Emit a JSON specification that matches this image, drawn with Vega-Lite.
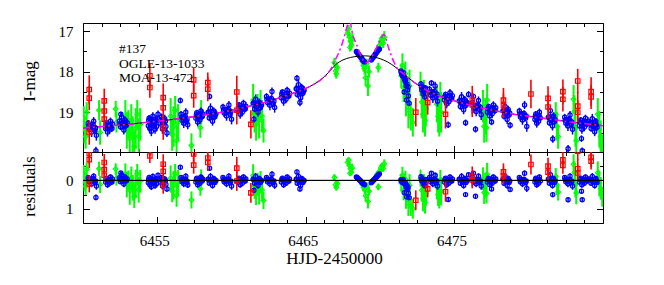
{
"$schema": "https://vega.github.io/schema/vega-lite/v6.json",
"background": "white",
"padding": {"left": 19, "top": 22, "right": 62, "bottom": 19},
"bounds": "flush",
"spacing": 0,
"config": {
  "view": {"stroke": "#000", "strokeWidth": 1},
  "axis": {"labelFont": "Liberation Serif", "titleFont": "Liberation Serif", "labelFontSize": 15, "titleFontSize": 17, "titleFontWeight": "normal", "labelColor": "#000", "titleColor": "#000", "tickColor": "#000", "tickWidth": 1, "domain": false, "grid": false}
},
"datasets": {
"b": [
{"t":6450.35,"m":19.27,"e":0.08,"r":-0.10},{"t":6450.42,"m":19.42,"e":0.10,"r":0.05},{"t":6450.50,"m":19.34,"e":0.07,"r":-0.03},{"t":6450.58,"m":19.49,"e":0.12,"r":0.12},{"t":6450.65,"m":19.37,"e":0.09,"r":0.00},{"t":6450.72,"m":19.22,"e":0.10,"r":-0.15},{"t":6450.80,"m":19.45,"e":0.08,"r":0.08},{"t":6450.90,"m":19.57,"e":0.13,"r":0.20},{"t":6450.87,"m":19.95,"e":0.10,"r":0.60},
{"t":6451.52,"m":19.40,"e":0.09,"r":0.06},{"t":6451.58,"m":19.26,"e":0.07,"r":-0.08},{"t":6451.65,"m":19.49,"e":0.11,"r":0.15},{"t":6451.72,"m":19.32,"e":0.08,"r":-0.02},{"t":6451.78,"m":19.44,"e":0.10,"r":0.10},{"t":6451.85,"m":19.22,"e":0.09,"r":-0.12},{"t":6451.92,"m":19.36,"e":0.07,"r":0.02},{"t":6451.98,"m":19.29,"e":0.10,"r":-0.05},
{"t":6452.45,"m":19.22,"e":0.10,"r":-0.09},{"t":6452.52,"m":19.36,"e":0.08,"r":0.05},{"t":6452.60,"m":19.12,"e":0.12,"r":-0.19},{"t":6452.68,"m":19.29,"e":0.07,"r":-0.02},{"t":6452.75,"m":19.44,"e":0.11,"r":0.13},{"t":6452.82,"m":19.19,"e":0.09,"r":-0.12},{"t":6452.90,"m":19.33,"e":0.08,"r":0.02},{"t":6452.97,"m":19.26,"e":0.10,"r":-0.05},{"t":6452.55,"m":19.05,"e":0.06,"r":-0.26},
{"t":6454.40,"m":19.33,"e":0.10,"r":0.08},{"t":6454.45,"m":19.15,"e":0.08,"r":-0.10},{"t":6454.50,"m":19.40,"e":0.12,"r":0.15},{"t":6454.55,"m":19.22,"e":0.07,"r":-0.03},{"t":6454.60,"m":19.47,"e":0.12,"r":0.22},{"t":6454.65,"m":19.29,"e":0.09,"r":0.05},{"t":6454.70,"m":19.10,"e":0.10,"r":-0.14},{"t":6454.75,"m":19.34,"e":0.08,"r":0.10},{"t":6454.80,"m":19.24,"e":0.07,"r":0.00},{"t":6454.85,"m":19.42,"e":0.11,"r":0.18},{"t":6454.90,"m":19.17,"e":0.09,"r":-0.06},{"t":6454.95,"m":19.35,"e":0.10,"r":0.12},{"t":6455.05,"m":19.05,"e":0.09,"r":-0.18},{"t":6455.20,"m":19.27,"e":0.09,"r":0.06},{"t":6455.28,"m":19.11,"e":0.08,"r":-0.10},{"t":6455.35,"m":19.41,"e":0.12,"r":0.20},{"t":6455.42,"m":19.23,"e":0.08,"r":0.02},{"t":6455.50,"m":19.16,"e":0.10,"r":-0.05},{"t":6455.58,"m":19.35,"e":0.11,"r":0.14},{"t":6455.65,"m":19.51,"e":0.10,"r":0.30},
{"t":6456.55,"m":18.71,"e":0.07,"r":-0.46},{"t":6456.60,"m":19.05,"e":0.08,"r":-0.10},{"t":6456.66,"m":19.20,"e":0.10,"r":0.05},{"t":6456.72,"m":19.12,"e":0.07,"r":-0.03},{"t":6456.78,"m":19.27,"e":0.12,"r":0.12},{"t":6456.85,"m":19.15,"e":0.09,"r":0.00},{"t":6456.92,"m":19.00,"e":0.10,"r":-0.15},{"t":6456.98,"m":19.23,"e":0.08,"r":0.08},{"t":6457.05,"m":19.31,"e":0.11,"r":0.16},
{"t":6457.60,"m":19.15,"e":0.09,"r":0.06},{"t":6457.66,"m":19.01,"e":0.07,"r":-0.08},{"t":6457.72,"m":19.24,"e":0.11,"r":0.15},{"t":6457.80,"m":19.07,"e":0.08,"r":-0.02},{"t":6457.87,"m":19.19,"e":0.10,"r":0.10},{"t":6457.94,"m":18.97,"e":0.09,"r":-0.12},{"t":6458.00,"m":19.11,"e":0.07,"r":0.02},{"t":6458.06,"m":19.04,"e":0.10,"r":-0.05},
{"t":6458.42,"m":19.00,"e":0.10,"r":-0.04},{"t":6458.50,"m":19.14,"e":0.08,"r":0.10},{"t":6458.58,"m":18.90,"e":0.12,"r":-0.14},{"t":6458.65,"m":19.07,"e":0.07,"r":0.03},{"t":6458.72,"m":19.22,"e":0.11,"r":0.18},{"t":6458.80,"m":18.97,"e":0.09,"r":-0.07},{"t":6458.88,"m":19.11,"e":0.08,"r":0.07},{"t":6458.95,"m":19.04,"e":0.10,"r":0.00},{"t":6458.52,"m":18.61,"e":0.07,"r":-0.43},
{"t":6459.42,"m":18.87,"e":0.08,"r":-0.10},{"t":6459.50,"m":19.02,"e":0.10,"r":0.05},{"t":6459.58,"m":18.94,"e":0.07,"r":-0.03},{"t":6459.66,"m":19.09,"e":0.12,"r":0.12},{"t":6459.74,"m":18.97,"e":0.09,"r":0.00},{"t":6459.82,"m":18.82,"e":0.10,"r":-0.15},{"t":6459.90,"m":19.05,"e":0.08,"r":0.08},{"t":6460.00,"m":19.17,"e":0.13,"r":0.20},
{"t":6460.42,"m":18.96,"e":0.09,"r":0.06},{"t":6460.50,"m":18.82,"e":0.07,"r":-0.08},{"t":6460.58,"m":19.05,"e":0.11,"r":0.15},{"t":6460.65,"m":18.88,"e":0.08,"r":-0.02},{"t":6460.72,"m":19.00,"e":0.10,"r":0.10},{"t":6460.80,"m":18.78,"e":0.09,"r":-0.12},{"t":6460.88,"m":18.92,"e":0.07,"r":0.02},{"t":6460.96,"m":18.85,"e":0.10,"r":-0.05},
{"t":6461.45,"m":18.78,"e":0.10,"r":-0.04},{"t":6461.55,"m":18.92,"e":0.08,"r":0.10},{"t":6461.62,"m":18.68,"e":0.12,"r":-0.14},{"t":6461.70,"m":18.85,"e":0.07,"r":0.03},{"t":6461.78,"m":19.00,"e":0.11,"r":0.18},{"t":6461.86,"m":18.75,"e":0.09,"r":-0.07},{"t":6461.94,"m":18.89,"e":0.08,"r":0.07},{"t":6462.02,"m":18.82,"e":0.10,"r":0.00},{"t":6461.50,"m":19.17,"e":0.08,"r":0.35},
{"t":6462.35,"m":18.61,"e":0.08,"r":-0.10},{"t":6462.42,"m":18.76,"e":0.10,"r":0.05},{"t":6462.50,"m":18.68,"e":0.07,"r":-0.03},{"t":6462.58,"m":18.83,"e":0.12,"r":0.12},{"t":6462.65,"m":18.71,"e":0.09,"r":0.00},{"t":6462.72,"m":18.49,"e":0.10,"r":-0.22},{"t":6462.80,"m":18.79,"e":0.08,"r":0.08},{"t":6462.90,"m":18.88,"e":0.13,"r":0.17},
{"t":6463.35,"m":18.64,"e":0.09,"r":0.06},{"t":6463.42,"m":18.50,"e":0.07,"r":-0.08},{"t":6463.50,"m":18.73,"e":0.11,"r":0.15},{"t":6463.58,"m":18.56,"e":0.08,"r":-0.02},{"t":6463.66,"m":18.68,"e":0.10,"r":0.10},{"t":6463.74,"m":18.46,"e":0.09,"r":-0.12},{"t":6463.82,"m":18.60,"e":0.07,"r":0.02},{"t":6463.90,"m":18.53,"e":0.10,"r":-0.05},
{"t":6464.35,"m":18.42,"e":0.10,"r":-0.04},{"t":6464.42,"m":18.56,"e":0.08,"r":0.10},{"t":6464.50,"m":18.32,"e":0.12,"r":-0.14},{"t":6464.58,"m":18.49,"e":0.07,"r":0.03},{"t":6464.65,"m":18.64,"e":0.11,"r":0.18},{"t":6464.72,"m":18.39,"e":0.09,"r":-0.07},{"t":6464.80,"m":18.53,"e":0.08,"r":0.07},{"t":6464.88,"m":18.46,"e":0.10,"r":0.00},{"t":6464.40,"m":18.16,"e":0.08,"r":-0.30},{"t":6464.60,"m":18.76,"e":0.09,"r":0.30},
{"t":6468.40,"m":17.50,"e":0.03,"r":-0.12},{"t":6468.45,"m":17.52,"e":0.03,"r":-0.10},{"t":6468.50,"m":17.55,"e":0.03,"r":-0.07},{"t":6468.55,"m":17.57,"e":0.03,"r":-0.05},{"t":6468.60,"m":17.60,"e":0.03,"r":-0.02},{"t":6468.65,"m":17.62,"e":0.03,"r":0.00},{"t":6468.70,"m":17.65,"e":0.03,"r":0.03},{"t":6468.75,"m":17.67,"e":0.03,"r":0.06},{"t":6468.80,"m":17.70,"e":0.03,"r":0.09},{"t":6468.85,"m":17.72,"e":0.03,"r":0.11},{"t":6468.90,"m":17.74,"e":0.03,"r":0.13},{"t":6468.95,"m":17.76,"e":0.03,"r":0.15},
{"t":6469.40,"m":17.71,"e":0.03,"r":0.08},{"t":6469.45,"m":17.68,"e":0.03,"r":0.05},{"t":6469.50,"m":17.66,"e":0.03,"r":0.03},{"t":6469.55,"m":17.63,"e":0.03,"r":-0.01},{"t":6469.60,"m":17.61,"e":0.03,"r":-0.03},{"t":6469.65,"m":17.58,"e":0.03,"r":-0.06},{"t":6469.70,"m":17.56,"e":0.03,"r":-0.09},{"t":6469.75,"m":17.53,"e":0.03,"r":-0.12},{"t":6469.80,"m":17.51,"e":0.03,"r":-0.15},{"t":6469.85,"m":17.48,"e":0.03,"r":-0.18},{"t":6469.90,"m":17.46,"e":0.03,"r":-0.21},{"t":6469.95,"m":17.44,"e":0.03,"r":-0.23},
{"t":6471.40,"m":17.98,"e":0.04,"r":-0.02},{"t":6471.45,"m":18.05,"e":0.05,"r":0.03},{"t":6471.50,"m":18.10,"e":0.05,"r":0.07},{"t":6471.55,"m":18.02,"e":0.04,"r":-0.03},{"t":6471.60,"m":18.15,"e":0.05,"r":0.09},{"t":6471.65,"m":18.20,"e":0.06,"r":0.12},{"t":6471.70,"m":18.25,"e":0.05,"r":0.16},{"t":6471.75,"m":18.35,"e":0.06,"r":0.24},{"t":6471.80,"m":18.30,"e":0.05,"r":0.18},{"t":6471.85,"m":18.45,"e":0.06,"r":0.31},{"t":6471.90,"m":18.60,"e":0.07,"r":0.45},{"t":6471.95,"m":18.78,"e":0.07,"r":0.61},{"t":6471.62,"m":18.50,"e":0.06,"r":0.43},{"t":6471.78,"m":18.70,"e":0.07,"r":0.58},
{"t":6472.75,"m":18.30,"e":0.07,"r":-0.13},{"t":6472.80,"m":18.45,"e":0.07,"r":0.02},{"t":6472.85,"m":18.38,"e":0.07,"r":-0.05},{"t":6472.90,"m":18.55,"e":0.08,"r":0.12},{"t":6472.95,"m":18.50,"e":0.07,"r":0.07},{"t":6473.00,"m":18.62,"e":0.08,"r":0.19},{"t":6473.05,"m":18.40,"e":0.07,"r":-0.03},
{"t":6473.32,"m":18.43,"e":0.08,"r":-0.10},{"t":6473.40,"m":18.58,"e":0.10,"r":0.05},{"t":6473.48,"m":18.50,"e":0.07,"r":-0.03},{"t":6473.55,"m":18.65,"e":0.12,"r":0.12},{"t":6473.62,"m":18.53,"e":0.09,"r":0.00},{"t":6473.70,"m":18.35,"e":0.10,"r":-0.18},{"t":6473.78,"m":18.61,"e":0.08,"r":0.08},{"t":6473.86,"m":18.73,"e":0.13,"r":0.20},{"t":6473.45,"m":18.28,"e":0.07,"r":-0.25},
{"t":6474.32,"m":18.70,"e":0.09,"r":0.06},{"t":6474.40,"m":18.56,"e":0.07,"r":-0.08},{"t":6474.48,"m":18.79,"e":0.11,"r":0.15},{"t":6474.55,"m":18.62,"e":0.08,"r":-0.02},{"t":6474.62,"m":18.74,"e":0.10,"r":0.10},{"t":6474.70,"m":18.52,"e":0.09,"r":-0.12},{"t":6474.78,"m":18.66,"e":0.07,"r":0.02},{"t":6474.86,"m":18.59,"e":0.10,"r":-0.05},{"t":6474.58,"m":19.31,"e":0.08,"r":0.67},
{"t":6475.32,"m":18.72,"e":0.10,"r":-0.04},{"t":6475.40,"m":18.86,"e":0.08,"r":0.10},{"t":6475.48,"m":18.62,"e":0.12,"r":-0.14},{"t":6475.55,"m":18.79,"e":0.07,"r":0.03},{"t":6475.62,"m":18.94,"e":0.11,"r":0.18},{"t":6475.70,"m":18.69,"e":0.09,"r":-0.07},{"t":6475.78,"m":18.83,"e":0.08,"r":0.07},{"t":6475.86,"m":18.76,"e":0.10,"r":0.00},{"t":6475.95,"m":18.56,"e":0.08,"r":-0.20},{"t":6475.75,"m":19.26,"e":0.08,"r":0.50},
{"t":6476.22,"m":18.76,"e":0.08,"r":-0.10},{"t":6476.30,"m":18.91,"e":0.10,"r":0.05},{"t":6476.38,"m":18.83,"e":0.07,"r":-0.03},{"t":6476.46,"m":18.98,"e":0.12,"r":0.12},{"t":6476.54,"m":18.86,"e":0.09,"r":0.00},{"t":6476.62,"m":18.71,"e":0.10,"r":-0.15},{"t":6476.70,"m":18.94,"e":0.08,"r":0.08},{"t":6476.80,"m":19.06,"e":0.13,"r":0.20},{"t":6476.42,"m":19.42,"e":0.08,"r":0.56},{"t":6476.28,"m":18.61,"e":0.07,"r":-0.25},
{"t":6477.22,"m":19.00,"e":0.09,"r":0.06},{"t":6477.30,"m":18.86,"e":0.07,"r":-0.08},{"t":6477.38,"m":19.09,"e":0.11,"r":0.15},{"t":6477.46,"m":18.92,"e":0.08,"r":-0.02},{"t":6477.54,"m":19.04,"e":0.10,"r":0.10},{"t":6477.62,"m":18.82,"e":0.09,"r":-0.12},{"t":6477.70,"m":18.96,"e":0.07,"r":0.02},{"t":6477.78,"m":18.89,"e":0.10,"r":-0.05},{"t":6477.50,"m":19.24,"e":0.08,"r":0.30},
{"t":6478.27,"m":18.96,"e":0.10,"r":-0.04},{"t":6478.34,"m":19.10,"e":0.08,"r":0.10},{"t":6478.41,"m":18.86,"e":0.12,"r":-0.14},{"t":6478.48,"m":19.03,"e":0.07,"r":0.03},{"t":6478.55,"m":19.18,"e":0.11,"r":0.18},{"t":6478.62,"m":18.93,"e":0.09,"r":-0.07},{"t":6478.68,"m":19.07,"e":0.08,"r":0.07},{"t":6478.75,"m":19.32,"e":0.08,"r":0.32},
{"t":6479.37,"m":18.97,"e":0.08,"r":-0.10},{"t":6479.44,"m":19.12,"e":0.10,"r":0.05},{"t":6479.51,"m":19.04,"e":0.07,"r":-0.03},{"t":6479.58,"m":19.19,"e":0.12,"r":0.12},{"t":6479.65,"m":19.07,"e":0.09,"r":0.00},{"t":6479.72,"m":18.82,"e":0.10,"r":-0.25},{"t":6479.79,"m":19.15,"e":0.08,"r":0.08},{"t":6479.87,"m":19.35,"e":0.13,"r":0.28},
{"t":6480.42,"m":19.18,"e":0.09,"r":0.06},{"t":6480.48,"m":19.04,"e":0.07,"r":-0.08},{"t":6480.54,"m":19.27,"e":0.11,"r":0.15},{"t":6480.60,"m":19.10,"e":0.08,"r":-0.02},{"t":6480.66,"m":19.22,"e":0.10,"r":0.10},{"t":6480.72,"m":19.00,"e":0.09,"r":-0.12},{"t":6480.78,"m":19.14,"e":0.07,"r":0.02},
{"t":6481.32,"m":19.12,"e":0.10,"r":-0.04},{"t":6481.39,"m":19.26,"e":0.08,"r":0.10},{"t":6481.46,"m":18.96,"e":0.12,"r":-0.20},{"t":6481.53,"m":19.19,"e":0.07,"r":0.03},{"t":6481.60,"m":19.34,"e":0.11,"r":0.18},{"t":6481.67,"m":19.09,"e":0.09,"r":-0.07},{"t":6481.74,"m":19.23,"e":0.08,"r":0.07},{"t":6481.62,"m":19.66,"e":0.09,"r":0.50},
{"t":6482.42,"m":19.12,"e":0.08,"r":-0.10},{"t":6482.50,"m":19.27,"e":0.10,"r":0.05},{"t":6482.57,"m":19.19,"e":0.07,"r":-0.03},{"t":6482.64,"m":19.34,"e":0.12,"r":0.12},{"t":6482.71,"m":19.22,"e":0.09,"r":0.00},{"t":6482.78,"m":19.07,"e":0.10,"r":-0.15},{"t":6482.86,"m":19.30,"e":0.08,"r":0.08},{"t":6482.95,"m":19.42,"e":0.13,"r":0.20},{"t":6482.65,"m":19.90,"e":0.09,"r":0.68},
{"t":6483.42,"m":19.33,"e":0.09,"r":0.06},{"t":6483.50,"m":19.19,"e":0.07,"r":-0.08},{"t":6483.58,"m":19.42,"e":0.11,"r":0.15},{"t":6483.66,"m":19.25,"e":0.08,"r":-0.02},{"t":6483.74,"m":19.37,"e":0.10,"r":0.10},{"t":6483.82,"m":19.15,"e":0.09,"r":-0.12},{"t":6483.90,"m":19.29,"e":0.07,"r":0.02},{"t":6483.98,"m":19.22,"e":0.10,"r":-0.05},{"t":6483.55,"m":19.65,"e":0.08,"r":0.38},{"t":6483.60,"m":19.95,"e":0.08,"r":0.68},
{"t":6484.12,"m":19.26,"e":0.10,"r":-0.04},{"t":6484.20,"m":19.40,"e":0.08,"r":0.10},{"t":6484.28,"m":19.16,"e":0.12,"r":-0.14},{"t":6484.36,"m":19.33,"e":0.07,"r":0.03},{"t":6484.44,"m":19.48,"e":0.11,"r":0.18},{"t":6484.52,"m":19.23,"e":0.09,"r":-0.07},{"t":6484.60,"m":19.37,"e":0.08,"r":0.07},
{"t":6450.38,"m":19.33,"e":0.08,"r":-0.04},{"t":6450.55,"m":19.41,"e":0.08,"r":0.04},{"t":6450.68,"m":19.30,"e":0.08,"r":-0.07},{"t":6450.85,"m":19.39,"e":0.08,"r":0.02},
{"t":6451.55,"m":19.31,"e":0.08,"r":-0.03},{"t":6451.68,"m":19.38,"e":0.08,"r":0.04},{"t":6451.82,"m":19.30,"e":0.08,"r":-0.04},{"t":6451.95,"m":19.40,"e":0.08,"r":0.06},
{"t":6452.48,"m":19.28,"e":0.08,"r":-0.03},{"t":6452.65,"m":19.35,"e":0.08,"r":0.04},{"t":6452.78,"m":19.24,"e":0.08,"r":-0.07},{"t":6452.93,"m":19.31,"e":0.08,"r":0.00},
{"t":6454.42,"m":19.20,"e":0.08,"r":-0.03},{"t":6454.52,"m":19.28,"e":0.08,"r":0.05},{"t":6454.62,"m":19.18,"e":0.08,"r":-0.05},{"t":6454.72,"m":19.25,"e":0.08,"r":0.02},{"t":6454.82,"m":19.30,"e":0.08,"r":0.07},{"t":6454.92,"m":19.21,"e":0.08,"r":-0.02},{"t":6455.25,"m":19.19,"e":0.08,"r":-0.02},{"t":6455.38,"m":19.26,"e":0.08,"r":0.05},{"t":6455.55,"m":19.22,"e":0.08,"r":0.01},
{"t":6456.63,"m":19.12,"e":0.08,"r":-0.03},{"t":6456.75,"m":19.19,"e":0.08,"r":0.04},{"t":6456.88,"m":19.10,"e":0.08,"r":-0.05},{"t":6457.00,"m":19.17,"e":0.08,"r":0.02},
{"t":6457.63,"m":19.06,"e":0.08,"r":-0.03},{"t":6457.76,"m":19.13,"e":0.08,"r":0.04},{"t":6457.90,"m":19.04,"e":0.08,"r":-0.05},{"t":6458.03,"m":19.10,"e":0.08,"r":0.01},
{"t":6458.46,"m":19.01,"e":0.08,"r":-0.03},{"t":6458.62,"m":19.09,"e":0.08,"r":0.05},{"t":6458.76,"m":19.00,"e":0.08,"r":-0.04},{"t":6458.90,"m":19.06,"e":0.08,"r":0.02},
{"t":6459.46,"m":18.94,"e":0.08,"r":-0.03},{"t":6459.62,"m":19.01,"e":0.08,"r":0.04},{"t":6459.78,"m":18.92,"e":0.08,"r":-0.05},{"t":6459.95,"m":18.99,"e":0.08,"r":0.02},
{"t":6460.46,"m":18.87,"e":0.08,"r":-0.03},{"t":6460.62,"m":18.94,"e":0.08,"r":0.04},{"t":6460.76,"m":18.86,"e":0.08,"r":-0.04},{"t":6460.92,"m":18.92,"e":0.08,"r":0.02},
{"t":6461.50,"m":18.79,"e":0.08,"r":-0.03},{"t":6461.66,"m":18.86,"e":0.08,"r":0.04},{"t":6461.82,"m":18.78,"e":0.08,"r":-0.04},{"t":6461.98,"m":18.84,"e":0.08,"r":0.02},
{"t":6462.38,"m":18.68,"e":0.08,"r":-0.03},{"t":6462.54,"m":18.75,"e":0.08,"r":0.04},{"t":6462.68,"m":18.66,"e":0.08,"r":-0.05},{"t":6462.85,"m":18.73,"e":0.08,"r":0.02},
{"t":6463.38,"m":18.55,"e":0.08,"r":-0.03},{"t":6463.54,"m":18.62,"e":0.08,"r":0.04},{"t":6463.70,"m":18.54,"e":0.08,"r":-0.04},{"t":6463.86,"m":18.60,"e":0.08,"r":0.02},
{"t":6464.38,"m":18.43,"e":0.08,"r":-0.03},{"t":6464.54,"m":18.50,"e":0.08,"r":0.04},{"t":6464.68,"m":18.41,"e":0.08,"r":-0.05},{"t":6464.84,"m":18.48,"e":0.08,"r":0.02},
{"t":6471.42,"m":18.02,"e":0.05,"r":0.01},{"t":6471.58,"m":18.10,"e":0.05,"r":0.04},{"t":6471.72,"m":18.20,"e":0.05,"r":0.11},{"t":6471.88,"m":18.38,"e":0.06,"r":0.24},
{"t":6472.78,"m":18.38,"e":0.08,"r":-0.04},{"t":6472.92,"m":18.46,"e":0.08,"r":0.04},{"t":6473.02,"m":18.42,"e":0.08,"r":0.00},
{"t":6473.36,"m":18.50,"e":0.08,"r":-0.03},{"t":6473.52,"m":18.57,"e":0.08,"r":0.04},{"t":6473.66,"m":18.49,"e":0.08,"r":-0.04},{"t":6473.82,"m":18.55,"e":0.08,"r":0.02},
{"t":6474.36,"m":18.61,"e":0.08,"r":-0.03},{"t":6474.52,"m":18.68,"e":0.08,"r":0.04},{"t":6474.66,"m":18.60,"e":0.08,"r":-0.04},{"t":6474.82,"m":18.66,"e":0.08,"r":0.02},
{"t":6475.36,"m":18.73,"e":0.08,"r":-0.03},{"t":6475.52,"m":18.80,"e":0.08,"r":0.04},{"t":6475.66,"m":18.72,"e":0.08,"r":-0.04},{"t":6475.82,"m":18.78,"e":0.08,"r":0.02},
{"t":6476.26,"m":18.83,"e":0.08,"r":-0.03},{"t":6476.42,"m":18.90,"e":0.08,"r":0.04},{"t":6476.58,"m":18.82,"e":0.08,"r":-0.04},{"t":6476.75,"m":18.88,"e":0.08,"r":0.02},
{"t":6477.26,"m":18.91,"e":0.08,"r":-0.03},{"t":6477.42,"m":18.98,"e":0.08,"r":0.04},{"t":6477.58,"m":18.90,"e":0.08,"r":-0.04},{"t":6477.74,"m":18.96,"e":0.08,"r":0.02},
{"t":6478.30,"m":18.97,"e":0.08,"r":-0.03},{"t":6478.45,"m":19.04,"e":0.08,"r":0.04},{"t":6478.58,"m":18.96,"e":0.08,"r":-0.04},{"t":6478.72,"m":19.02,"e":0.08,"r":0.02},
{"t":6479.40,"m":19.04,"e":0.08,"r":-0.03},{"t":6479.55,"m":19.11,"e":0.08,"r":0.04},{"t":6479.68,"m":19.03,"e":0.08,"r":-0.04},{"t":6479.83,"m":19.09,"e":0.08,"r":0.02},
{"t":6480.45,"m":19.09,"e":0.08,"r":-0.03},{"t":6480.57,"m":19.16,"e":0.08,"r":0.04},{"t":6480.70,"m":19.08,"e":0.08,"r":-0.04},
{"t":6481.36,"m":19.13,"e":0.08,"r":-0.03},{"t":6481.50,"m":19.20,"e":0.08,"r":0.04},{"t":6481.64,"m":19.12,"e":0.08,"r":-0.04},{"t":6481.77,"m":19.18,"e":0.08,"r":0.02},
{"t":6482.46,"m":19.19,"e":0.08,"r":-0.03},{"t":6482.60,"m":19.26,"e":0.08,"r":0.04},{"t":6482.75,"m":19.18,"e":0.08,"r":-0.04},{"t":6482.90,"m":19.24,"e":0.08,"r":0.02},
{"t":6483.46,"m":19.24,"e":0.08,"r":-0.03},{"t":6483.62,"m":19.31,"e":0.08,"r":0.04},{"t":6483.78,"m":19.23,"e":0.08,"r":-0.04},{"t":6483.94,"m":19.29,"e":0.08,"r":0.02},
{"t":6484.16,"m":19.27,"e":0.08,"r":-0.03},{"t":6484.32,"m":19.34,"e":0.08,"r":0.04},{"t":6484.48,"m":19.26,"e":0.08,"r":-0.04},{"t":6484.56,"m":19.32,"e":0.08,"r":0.02}
],
"g": [
{"t":6450.05,"m":19.15,"e":0.30,"r":-0.24},{"t":6450.10,"m":19.42,"e":0.35,"r":0.03},{"t":6450.18,"m":19.60,"e":0.30,"r":0.21},{"t":6450.25,"m":19.00,"e":0.25,"r":-0.39},
{"t":6451.08,"m":18.95,"e":0.25,"r":-0.41},{"t":6451.15,"m":19.50,"e":0.30,"r":0.14},
{"t":6452.20,"m":18.92,"e":0.20,"r":-0.40},{"t":6452.25,"m":19.25,"e":0.25,"r":-0.07},
{"t":6452.85,"m":19.10,"e":0.40,"r":-0.20},{"t":6452.95,"m":19.45,"e":0.45,"r":0.15},{"t":6453.05,"m":19.30,"e":0.35,"r":0.00},{"t":6453.15,"m":19.65,"e":0.50,"r":0.36},{"t":6453.25,"m":19.20,"e":0.40,"r":-0.09},{"t":6453.35,"m":19.55,"e":0.45,"r":0.26},{"t":6453.45,"m":19.85,"e":0.40,"r":0.57},{"t":6453.55,"m":19.40,"e":0.50,"r":0.12},{"t":6453.65,"m":19.05,"e":0.35,"r":-0.23},{"t":6453.75,"m":19.60,"e":0.45,"r":0.33},{"t":6453.85,"m":19.30,"e":0.40,"r":0.03},
{"t":6455.90,"m":19.10,"e":0.45,"r":-0.08},{"t":6456.00,"m":19.55,"e":0.40,"r":0.37},{"t":6456.10,"m":19.35,"e":0.50,"r":0.17},{"t":6456.20,"m":18.95,"e":0.35,"r":-0.23},{"t":6456.30,"m":19.70,"e":0.40,"r":0.53},{"t":6456.40,"m":19.25,"e":0.45,"r":0.08},
{"t":6457.30,"m":19.82,"e":0.30,"r":0.69},
{"t":6457.90,"m":19.38,"e":0.25,"r":0.29},{"t":6457.95,"m":19.00,"e":0.30,"r":-0.09},
{"t":6461.45,"m":18.70,"e":0.40,"r":-0.17},{"t":6461.55,"m":19.05,"e":0.45,"r":0.20},{"t":6461.65,"m":19.30,"e":0.40,"r":0.47},{"t":6461.75,"m":18.90,"e":0.35,"r":0.08},{"t":6461.85,"m":19.20,"e":0.45,"r":0.40},{"t":6461.95,"m":18.80,"e":0.35,"r":0.02},{"t":6462.05,"m":19.10,"e":0.40,"r":0.34},{"t":6462.15,"m":19.45,"e":0.30,"r":0.71},
{"t":6466.92,"m":17.78,"e":0.12,"r":-0.10},{"t":6467.00,"m":17.98,"e":0.15,"r":0.15},{"t":6467.05,"m":18.05,"e":0.12,"r":0.24},{"t":6467.12,"m":17.90,"e":0.10,"r":0.11},
{"t":6467.82,"m":17.05,"e":0.12,"r":-0.63},{"t":6467.88,"m":16.95,"e":0.10,"r":-0.72},{"t":6467.94,"m":17.15,"e":0.12,"r":-0.52},{"t":6468.00,"m":17.25,"e":0.10,"r":-0.40},{"t":6468.06,"m":17.35,"e":0.12,"r":-0.29},{"t":6468.12,"m":17.20,"e":0.15,"r":-0.44},{"t":6467.97,"m":17.40,"e":0.10,"r":-0.25},
{"t":6468.80,"m":17.75,"e":0.12,"r":0.14},{"t":6468.88,"m":17.85,"e":0.15,"r":0.24},{"t":6468.95,"m":17.92,"e":0.15,"r":0.31},{"t":6469.02,"m":18.15,"e":0.20,"r":0.54},{"t":6469.10,"m":17.80,"e":0.12,"r":0.19},{"t":6469.18,"m":18.35,"e":0.25,"r":0.74},{"t":6469.25,"m":18.00,"e":0.15,"r":0.38},
{"t":6469.72,"m":17.55,"e":0.12,"r":-0.11},{"t":6469.80,"m":17.45,"e":0.10,"r":-0.22},{"t":6469.88,"m":17.90,"e":0.12,"r":0.23},{"t":6469.95,"m":17.35,"e":0.10,"r":-0.32},{"t":6470.05,"m":17.25,"e":0.12,"r":-0.44},{"t":6470.12,"m":17.18,"e":0.10,"r":-0.52},{"t":6470.20,"m":17.30,"e":0.12,"r":-0.42},{"t":6470.28,"m":17.15,"e":0.15,"r":-0.59},
{"t":6471.42,"m":18.10,"e":0.30,"r":0.09},{"t":6471.50,"m":17.85,"e":0.30,"r":-0.18},{"t":6471.58,"m":18.40,"e":0.35,"r":0.35},{"t":6471.66,"m":18.25,"e":0.40,"r":0.17},{"t":6471.74,"m":18.70,"e":0.40,"r":0.60},{"t":6471.82,"m":18.50,"e":0.35,"r":0.37},{"t":6471.90,"m":18.95,"e":0.45,"r":0.80},{"t":6471.98,"m":18.35,"e":0.40,"r":0.18},{"t":6472.06,"m":19.10,"e":0.35,"r":0.90},{"t":6471.70,"m":18.05,"e":0.30,"r":-0.04},{"t":6472.20,"m":19.25,"e":0.35,"r":1.00},
{"t":6472.72,"m":18.30,"e":0.30,"r":-0.08},{"t":6472.80,"m":18.75,"e":0.40,"r":0.35},{"t":6472.88,"m":19.05,"e":0.45,"r":0.64},{"t":6472.95,"m":18.55,"e":0.35,"r":0.13},{"t":6473.02,"m":19.20,"e":0.40,"r":0.77},{"t":6473.08,"m":18.90,"e":0.45,"r":0.46},
{"t":6473.82,"m":18.80,"e":0.45,"r":0.22},{"t":6473.90,"m":19.10,"e":0.40,"r":0.50},{"t":6473.98,"m":19.15,"e":0.45,"r":0.54},{"t":6474.05,"m":18.60,"e":0.35,"r":-0.02},{"t":6474.10,"m":19.00,"e":0.50,"r":0.38},
{"t":6476.92,"m":18.85,"e":0.40,"r":-0.06},{"t":6477.00,"m":19.35,"e":0.40,"r":0.43},{"t":6477.08,"m":19.10,"e":0.45,"r":0.18},{"t":6477.16,"m":19.38,"e":0.35,"r":0.46},{"t":6477.20,"m":18.70,"e":0.40,"r":-0.22},
{"t":6481.82,"m":19.05,"e":0.30,"r":-0.14},{"t":6481.90,"m":19.35,"e":0.35,"r":0.16},{"t":6481.98,"m":19.60,"e":0.30,"r":0.41},
{"t":6483.02,"m":18.68,"e":0.35,"r":-0.57},{"t":6483.08,"m":18.98,"e":0.40,"r":-0.27},{"t":6483.14,"m":19.40,"e":0.45,"r":0.15},{"t":6483.20,"m":19.70,"e":0.40,"r":0.44},
{"t":6484.65,"m":19.05,"e":0.40,"r":-0.27},{"t":6484.75,"m":19.42,"e":0.45,"r":0.10},{"t":6484.85,"m":19.60,"e":0.40,"r":0.28},{"t":6484.95,"m":19.90,"e":0.35,"r":0.58}
],
"rd": [
{"t":6450.42,"m":18.44,"e":0.35,"r":-0.94},{"t":6450.42,"m":18.65,"e":0.30,"r":-0.73},{"t":6450.42,"m":19.50,"e":0.30,"r":0.12},
{"t":6451.43,"m":18.72,"e":0.30,"r":-0.63},{"t":6451.43,"m":18.97,"e":0.30,"r":-0.38},{"t":6451.43,"m":19.17,"e":0.25,"r":-0.18},
{"t":6454.50,"m":18.10,"e":0.30,"r":-1.15},{"t":6454.50,"m":18.39,"e":0.25,"r":-0.86},
{"t":6455.40,"m":18.64,"e":0.35,"r":-0.57},{"t":6455.40,"m":18.89,"e":0.30,"r":-0.32},{"t":6455.40,"m":19.38,"e":0.30,"r":0.17},
{"t":6457.45,"m":18.20,"e":0.30,"r":-0.93},{"t":6457.45,"m":18.59,"e":0.30,"r":-0.54},
{"t":6458.40,"m":18.27,"e":0.25,"r":-0.79},{"t":6458.40,"m":18.43,"e":0.30,"r":-0.63},
{"t":6460.35,"m":18.50,"e":0.40,"r":-0.43},{"t":6460.35,"m":18.95,"e":0.35,"r":0.02},
{"t":6461.30,"m":19.30,"e":0.35,"r":0.44},
{"t":6472.40,"m":19.00,"e":0.35,"r":0.70},
{"t":6473.20,"m":18.76,"e":0.30,"r":0.30},
{"t":6474.40,"m":19.05,"e":0.35,"r":0.40},
{"t":6476.20,"m":18.70,"e":0.35,"r":-0.14},{"t":6476.20,"m":18.82,"e":0.30,"r":-0.02},
{"t":6478.30,"m":18.70,"e":0.30,"r":-0.30},{"t":6478.30,"m":18.84,"e":0.30,"r":-0.16},
{"t":6480.15,"m":18.55,"e":0.35,"r":-0.56},
{"t":6481.30,"m":18.66,"e":0.30,"r":-0.50},{"t":6481.30,"m":18.87,"e":0.30,"r":-0.29},
{"t":6482.30,"m":18.49,"e":0.30,"r":-0.72},{"t":6482.30,"m":18.68,"e":0.30,"r":-0.53},
{"t":6483.30,"m":18.23,"e":0.30,"r":-1.03},{"t":6483.30,"m":18.85,"e":0.35,"r":-0.41},{"t":6483.30,"m":19.00,"e":0.30,"r":-0.26},
{"t":6484.20,"m":18.49,"e":0.35,"r":-0.81},{"t":6484.20,"m":18.62,"e":0.30,"r":-0.68}
],
"black": [
{"t":6450,"m":19.39},{"t":6451,"m":19.36},{"t":6452,"m":19.33},{"t":6453,"m":19.30},{"t":6454,"m":19.26},{"t":6455,"m":19.22},{"t":6456,"m":19.18},{"t":6457,"m":19.13},{"t":6458,"m":19.08},{"t":6459,"m":19.02},{"t":6460,"m":18.95},{"t":6461,"m":18.87},{"t":6462,"m":18.78},{"t":6463,"m":18.67},{"t":6464,"m":18.55},{"t":6465,"m":18.41},{"t":6465.5,"m":18.32},{"t":6466,"m":18.20},{"t":6466.5,"m":18.03},{"t":6467,"m":17.83},{"t":6467.5,"m":17.71},{"t":6468,"m":17.65},{"t":6468.5,"m":17.62},{"t":6469,"m":17.61},{"t":6469.5,"m":17.63},{"t":6470,"m":17.68},{"t":6470.5,"m":17.76},{"t":6471,"m":17.88},{"t":6471.5,"m":18.03},{"t":6472,"m":18.18},{"t":6472.5,"m":18.32},{"t":6473,"m":18.43},{"t":6474,"m":18.60},{"t":6475,"m":18.72},{"t":6476,"m":18.82},{"t":6477,"m":18.91},{"t":6478,"m":18.98},{"t":6479,"m":19.05},{"t":6480,"m":19.10},{"t":6481,"m":19.15},{"t":6482,"m":19.20},{"t":6483,"m":19.25},{"t":6484,"m":19.29},{"t":6485,"m":19.33}
],
"mag": [
{"t":6450,"m":19.39},{"t":6451,"m":19.36},{"t":6452,"m":19.33},{"t":6453,"m":19.30},{"t":6454,"m":19.26},{"t":6455,"m":19.22},{"t":6456,"m":19.18},{"t":6457,"m":19.13},{"t":6458,"m":19.08},{"t":6459,"m":19.02},{"t":6460,"m":18.95},{"t":6461,"m":18.87},{"t":6462,"m":18.78},{"t":6463,"m":18.67},{"t":6464,"m":18.55},{"t":6465,"m":18.41},{"t":6465.5,"m":18.32},{"t":6466,"m":18.20},{"t":6466.5,"m":18.03},{"t":6466.6,"m":17.98},{"t":6467.0,"m":17.70},{"t":6467.35,"m":17.41},{"t":6467.6,"m":17.12},{"t":6467.8,"m":16.85},{"t":6467.92,"m":16.70},{"t":6468.15,"m":17.08},{"t":6468.5,"m":17.41},{"t":6468.7,"m":17.61},{"t":6469.05,"m":17.78},{"t":6469.4,"m":17.66},{"t":6469.7,"m":17.45},{"t":6470.1,"m":17.16},{"t":6470.24,"m":17.08},{"t":6470.6,"m":17.45},{"t":6470.95,"m":17.78},{"t":6471.3,"m":17.98},{"t":6471.5,"m":18.03},{"t":6472,"m":18.18},{"t":6472.5,"m":18.32},{"t":6473,"m":18.43},{"t":6474,"m":18.60},{"t":6475,"m":18.72},{"t":6476,"m":18.82},{"t":6477,"m":18.91},{"t":6478,"m":18.98},{"t":6479,"m":19.05},{"t":6480,"m":19.10},{"t":6481,"m":19.15},{"t":6482,"m":19.20},{"t":6483,"m":19.25},{"t":6484,"m":19.29},{"t":6485,"m":19.33}
],
"zero": [{"t":6450,"r":0},{"t":6485,"r":0}]
},
"vconcat": [
{
"width": 520, "height": 129,
"resolve": {"axis": {"x": "independent", "y": "independent"}},
"layer": [
{"data": {"name": "g"}, "mark": {"type": "errorbar", "color": "#00ff00", "thickness": 2, "clip": true},
 "encoding": {"x": {"field": "t", "type": "quantitative", "scale": {"domain": [6450, 6485], "nice": false, "zero": false}, "axis": null},
  "y": {"field": "m", "type": "quantitative", "scale": {"domain": [16.8, 19.98], "reverse": true, "nice": false, "zero": false}, "axis": null},
  "yError": {"field": "e"}}},
{"data": {"name": "g"}, "mark": {"type": "point", "shape": "diamond", "filled": false, "color": "#00ff00", "size": 22, "strokeWidth": 1.2, "opacity": 1, "clip": true},
 "encoding": {"x": {"field": "t", "type": "quantitative", "scale": {"domain": [6450, 6485], "nice": false, "zero": false}, "axis": null},
  "y": {"field": "m", "type": "quantitative", "scale": {"domain": [16.8, 19.98], "reverse": true, "nice": false, "zero": false}, "axis": null}}},
{"data": {"name": "b"}, "mark": {"type": "errorbar", "color": "#0000ff", "thickness": 1.5, "clip": true},
 "encoding": {"x": {"field": "t", "type": "quantitative", "scale": {"domain": [6450, 6485], "nice": false, "zero": false}, "axis": null},
  "y": {"field": "m", "type": "quantitative", "scale": {"domain": [16.8, 19.98], "reverse": true, "nice": false, "zero": false}, "axis": null},
  "yError": {"field": "e"}}},
{"data": {"name": "b"}, "mark": {"type": "point", "shape": "circle", "filled": false, "color": "#0000ff", "size": 18, "strokeWidth": 1.2, "opacity": 1, "clip": true},
 "encoding": {"x": {"field": "t", "type": "quantitative", "scale": {"domain": [6450, 6485], "nice": false, "zero": false}, "axis": null},
  "y": {"field": "m", "type": "quantitative", "scale": {"domain": [16.8, 19.98], "reverse": true, "nice": false, "zero": false}, "axis": null}}},
{"data": {"name": "rd"}, "mark": {"type": "errorbar", "color": "#ff0000", "thickness": 1.6, "clip": true},
 "encoding": {"x": {"field": "t", "type": "quantitative", "scale": {"domain": [6450, 6485], "nice": false, "zero": false}, "axis": null},
  "y": {"field": "m", "type": "quantitative", "scale": {"domain": [16.8, 19.98], "reverse": true, "nice": false, "zero": false}, "axis": null},
  "yError": {"field": "e"}}},
{"data": {"name": "rd"}, "mark": {"type": "point", "shape": "square", "filled": false, "color": "#ff0000", "size": 20, "strokeWidth": 1.2, "opacity": 1, "clip": true},
 "encoding": {"x": {"field": "t", "type": "quantitative", "scale": {"domain": [6450, 6485], "nice": false, "zero": false}, "axis": null},
  "y": {"field": "m", "type": "quantitative", "scale": {"domain": [16.8, 19.98], "reverse": true, "nice": false, "zero": false}, "axis": null}}},
{"data": {"name": "black"}, "mark": {"type": "line", "color": "#000000", "strokeWidth": 1, "interpolate": "monotone", "clip": true},
 "encoding": {"x": {"field": "t", "type": "quantitative", "scale": {"domain": [6450, 6485], "nice": false, "zero": false},
   "axis": {"orient": "bottom", "title": null, "labels": false, "values": [6450,6451.25,6452.5,6453.75,6455,6456.25,6457.5,6458.75,6460,6461.25,6462.5,6463.75,6465,6466.25,6467.5,6468.75,6470,6471.25,6472.5,6473.75,6475,6476.25,6477.5,6478.75,6480,6481.25,6482.5,6483.75,6485],
   "tickSize": {"condition": {"test": "(datum.value - 6455) % 10 == 0", "value": -6.5}, "value": -3.5}}},
  "y": {"field": "m", "type": "quantitative", "scale": {"domain": [16.8, 19.98], "reverse": true, "nice": false, "zero": false},
   "axis": {"orient": "left", "title": "I-mag", "titleX": -49, "titleY": 58, "titleAngle": -90, "titleAlign": "center", "titleBaseline": "alphabetic",
   "values": [17, 17.5, 18, 18.5, 19, 19.5], "labelExpr": "datum.value % 1 == 0 ? format(datum.value, 'd') : ''", "labelPadding": 16.5,
   "tickSize": {"condition": {"test": "datum.value % 1 == 0", "value": -6.5}, "value": -3.5}}}}},
{"data": {"name": "mag"}, "mark": {"type": "line", "color": "#ff00ff", "strokeWidth": 1.5, "strokeDash": [7, 3, 2, 3], "interpolate": "monotone", "clip": true},
 "encoding": {"x": {"field": "t", "type": "quantitative", "scale": {"domain": [6450, 6485], "nice": false, "zero": false},
   "axis": {"orient": "top", "title": null, "labels": false, "values": [6450,6451.25,6452.5,6453.75,6455,6456.25,6457.5,6458.75,6460,6461.25,6462.5,6463.75,6465,6466.25,6467.5,6468.75,6470,6471.25,6472.5,6473.75,6475,6476.25,6477.5,6478.75,6480,6481.25,6482.5,6483.75,6485],
   "tickSize": {"condition": {"test": "(datum.value - 6455) % 10 == 0", "value": -6.5}, "value": -3.5}}},
  "y": {"field": "m", "type": "quantitative", "scale": {"domain": [16.8, 19.98], "reverse": true, "nice": false, "zero": false},
   "axis": {"orient": "right", "title": null, "labels": false, "values": [17, 17.5, 18, 18.5, 19, 19.5],
   "tickSize": {"condition": {"test": "datum.value % 1 == 0", "value": -6.5}, "value": -3.5}}}}},
{"data": {"values": [{}]}, "mark": {"type": "text", "align": "left", "baseline": "alphabetic", "font": "Liberation Serif", "fontSize": 13.5, "lineBreak": "\n", "lineHeight": 14.5, "color": "#000000"},
 "encoding": {"x": {"datum": 6452.42, "type": "quantitative", "scale": {"domain": [6450, 6485], "nice": false, "zero": false}, "axis": null},
  "y": {"datum": 17.54, "type": "quantitative", "scale": {"domain": [16.8, 19.98], "reverse": true, "nice": false, "zero": false}, "axis": null},
  "text": {"value": "#137\nOGLE-13-1033\nMOA-13-472"}}}
]
},
{
"width": 520, "height": 71,
"resolve": {"axis": {"x": "independent", "y": "independent"}},
"layer": [
{"data": {"name": "g"}, "mark": {"type": "errorbar", "color": "#00ff00", "thickness": 2, "clip": true},
 "encoding": {"x": {"field": "t", "type": "quantitative", "scale": {"domain": [6450, 6485], "nice": false, "zero": false}, "axis": null},
  "y": {"field": "r", "type": "quantitative", "scale": {"domain": [-1, 1.5], "reverse": true, "nice": false, "zero": false}, "axis": null},
  "yError": {"field": "e"}}},
{"data": {"name": "g"}, "mark": {"type": "point", "shape": "diamond", "filled": false, "color": "#00ff00", "size": 22, "strokeWidth": 1.2, "opacity": 1, "clip": true},
 "encoding": {"x": {"field": "t", "type": "quantitative", "scale": {"domain": [6450, 6485], "nice": false, "zero": false}, "axis": null},
  "y": {"field": "r", "type": "quantitative", "scale": {"domain": [-1, 1.5], "reverse": true, "nice": false, "zero": false}, "axis": null}}},
{"data": {"name": "b"}, "mark": {"type": "errorbar", "color": "#0000ff", "thickness": 1.5, "clip": true},
 "encoding": {"x": {"field": "t", "type": "quantitative", "scale": {"domain": [6450, 6485], "nice": false, "zero": false}, "axis": null},
  "y": {"field": "r", "type": "quantitative", "scale": {"domain": [-1, 1.5], "reverse": true, "nice": false, "zero": false}, "axis": null},
  "yError": {"field": "e"}}},
{"data": {"name": "b"}, "mark": {"type": "point", "shape": "circle", "filled": false, "color": "#0000ff", "size": 18, "strokeWidth": 1.2, "opacity": 1, "clip": true},
 "encoding": {"x": {"field": "t", "type": "quantitative", "scale": {"domain": [6450, 6485], "nice": false, "zero": false}, "axis": null},
  "y": {"field": "r", "type": "quantitative", "scale": {"domain": [-1, 1.5], "reverse": true, "nice": false, "zero": false}, "axis": null}}},
{"data": {"name": "rd"}, "mark": {"type": "errorbar", "color": "#ff0000", "thickness": 1.6, "clip": true},
 "encoding": {"x": {"field": "t", "type": "quantitative", "scale": {"domain": [6450, 6485], "nice": false, "zero": false}, "axis": null},
  "y": {"field": "r", "type": "quantitative", "scale": {"domain": [-1, 1.5], "reverse": true, "nice": false, "zero": false}, "axis": null},
  "yError": {"field": "e"}}},
{"data": {"name": "rd"}, "mark": {"type": "point", "shape": "square", "filled": false, "color": "#ff0000", "size": 20, "strokeWidth": 1.2, "opacity": 1, "clip": true},
 "encoding": {"x": {"field": "t", "type": "quantitative", "scale": {"domain": [6450, 6485], "nice": false, "zero": false}, "axis": null},
  "y": {"field": "r", "type": "quantitative", "scale": {"domain": [-1, 1.5], "reverse": true, "nice": false, "zero": false}, "axis": null}}},
{"data": {"name": "zero"}, "mark": {"type": "line", "color": "#000000", "strokeWidth": 1, "clip": true},
 "encoding": {"x": {"field": "t", "type": "quantitative", "scale": {"domain": [6450, 6485], "nice": false, "zero": false},
   "axis": {"orient": "bottom", "title": "HJD-2450000", "titleX": 251, "titleY": 40.5, "titleAlign": "center", "titleBaseline": "alphabetic",
   "values": [6450,6451.25,6452.5,6453.75,6455,6456.25,6457.5,6458.75,6460,6461.25,6462.5,6463.75,6465,6466.25,6467.5,6468.75,6470,6471.25,6472.5,6473.75,6475,6476.25,6477.5,6478.75,6480,6481.25,6482.5,6483.75,6485],
   "labelExpr": "(datum.value - 6455) % 10 == 0 && datum.value < 6480 ? format(datum.value, 'd') : ''", "labelPadding": 16.5, "labelOffset": -3, "labelBaseline": "top",
   "tickSize": {"condition": {"test": "(datum.value - 6455) % 10 == 0", "value": -6.5}, "value": -3.5}}},
  "y": {"field": "r", "type": "quantitative", "scale": {"domain": [-1, 1.5], "reverse": true, "nice": false, "zero": false},
   "axis": {"orient": "left", "title": "residuals", "titleX": -49, "titleY": 34, "titleAngle": -90, "titleAlign": "center", "titleBaseline": "alphabetic",
   "values": [-0.5, 0, 0.5, 1], "labelExpr": "datum.value % 1 == 0 ? format(datum.value, 'd') : ''", "labelPadding": 16.5,
   "tickSize": {"condition": {"test": "datum.value % 1 == 0", "value": -6.5}, "value": -3.5}}}}},
{"data": {"name": "zero"}, "mark": {"type": "line", "color": "#000000", "strokeWidth": 1, "clip": true},
 "encoding": {"x": {"field": "t", "type": "quantitative", "scale": {"domain": [6450, 6485], "nice": false, "zero": false},
   "axis": {"orient": "top", "title": null, "labels": false, "values": [6450,6451.25,6452.5,6453.75,6455,6456.25,6457.5,6458.75,6460,6461.25,6462.5,6463.75,6465,6466.25,6467.5,6468.75,6470,6471.25,6472.5,6473.75,6475,6476.25,6477.5,6478.75,6480,6481.25,6482.5,6483.75,6485],
   "tickSize": {"condition": {"test": "(datum.value - 6455) % 10 == 0", "value": -6.5}, "value": -3.5}}},
  "y": {"field": "r", "type": "quantitative", "scale": {"domain": [-1, 1.5], "reverse": true, "nice": false, "zero": false},
   "axis": {"orient": "right", "title": null, "labels": false, "values": [-0.5, 0, 0.5, 1],
   "tickSize": {"condition": {"test": "datum.value % 1 == 0", "value": -6.5}, "value": -3.5}}}}}
]
}
]
}
